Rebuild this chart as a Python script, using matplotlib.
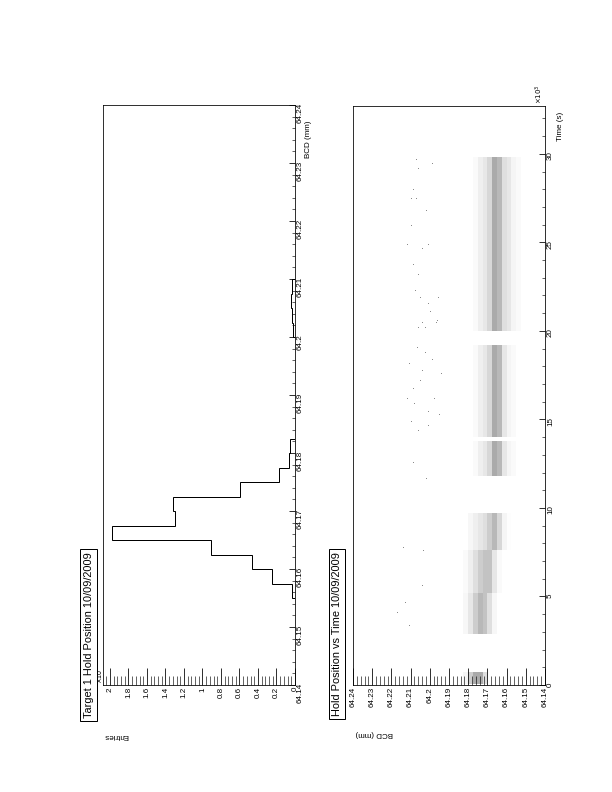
import numpy as np
import matplotlib.pyplot as plt
from matplotlib.ticker import MultipleLocator, FuncFormatter

plt.rcParams['font.family'] = ['Liberation Sans', 'DejaVu Sans']

# ---- histogram: BCD bins (mm) and entries (x10) ----
hist_edges = [64.155, 64.1575, 64.16, 64.1625, 64.165, 64.1675, 64.17, 64.1725,
              64.175, 64.1775, 64.18, 64.1825, 64.185, 64.1875, 64.19, 64.1925,
              64.195, 64.1975, 64.2, 64.2025, 64.205, 64.2075, 64.21]
hist_counts = [0.03, 0.25, 0.46, 0.91, 1.98, 1.30, 1.32, 0.59, 0.17, 0.07, 0.05,
               0, 0, 0, 0, 0, 0, 0, 0.02, 0.03, 0.04, 0.03]

# ---- hold position vs time: dense bands (time in 10^3 s) ----
band_bcd_edges = [64.150, 64.1525, 64.155, 64.1575, 64.160, 64.1625, 64.165, 64.1675,
                  64.170, 64.1725, 64.175, 64.1775, 64.180, 64.1825, 64.185]
band_t_start = [0.05, 2.9, 5.2, 7.6, 11.8, 14.0, 20.0]
band_t_end = [0.75, 5.2, 7.6, 9.7, 13.8, 19.2, 29.8]
band_density = [
    [0, 0, 0, 0, 0, 0, 0, 0, 0.5, 1.0, 1.0, 0.7, 0.2, 0],
    [0, 0, 0, 0, 0, 0, 0.15, 0.5, 0.8, 0.9, 0.7, 0.4, 0.15, 0],
    [0, 0, 0, 0, 0, 0.1, 0.4, 0.8, 0.8, 0.7, 0.5, 0.3, 0.1, 0],
    [0, 0, 0, 0.05, 0.2, 0.6, 0.9, 0.7, 0.5, 0.4, 0.3, 0.15, 0, 0],
    [0, 0, 0.1, 0.2, 0.4, 0.9, 1.0, 0.6, 0.4, 0.3, 0.1, 0, 0, 0],
    [0, 0, 0.1, 0.2, 0.4, 0.9, 1.0, 0.6, 0.4, 0.3, 0.1, 0, 0, 0],
    [0, 0.1, 0.2, 0.4, 0.5, 0.9, 1.0, 0.6, 0.4, 0.3, 0.1, 0, 0, 0],
]

# isolated points away from the bands
sparse_t = [29.7, 29.5, 29.2, 28.0, 27.5, 27.5, 26.8, 26.0, 24.9, 24.9, 24.7, 23.8, 23.2,
            22.3, 21.9, 21.1, 20.6, 20.5, 20.5, 20.2, 20.2, 21.9, 21.6,
            19.1, 18.8, 18.4, 18.2, 17.6, 17.2, 16.2, 16.2, 15.9, 15.5, 14.9, 14.7,
            14.4, 15.3, 16.8, 17.8, 12.6, 11.7, 7.8, 7.6, 5.65, 4.7, 4.1, 3.4]
sparse_bcd = [64.207, 64.199, 64.206, 64.209, 64.210, 64.207, 64.202, 64.210, 64.212,
              64.201, 64.204, 64.209, 64.206,
              64.2077, 64.205, 64.200, 64.196, 64.204, 64.197, 64.206, 64.2025, 64.1957, 64.201,
              64.2067, 64.2025, 64.199, 64.211, 64.194, 64.205, 64.212, 64.198, 64.208,
              64.201, 64.210, 64.201, 64.206, 64.195, 64.209, 64.204, 64.209, 64.202,
              64.214, 64.2035, 64.204, 64.213, 64.217, 64.211]

W, H = 612, 792


def box(x0, y0, x1, y1):
    return [x0 / W, 1 - y1 / H, (x1 - x0) / W, (y1 - y0) / H]


fmt = FuncFormatter(lambda v, p: f'{v:g}')
fig = plt.figure(figsize=(8.5, 11), dpi=72)

# ---------------- top panel: histogram ----------------
ax1 = fig.add_axes(box(103, 105, 295, 685))
ax1.stairs(hist_counts, hist_edges, orientation='horizontal', color='black', lw=1)
ax1.set_xlim(2.075, 0)
ax1.set_ylim(64.14, 64.24)
ax1.xaxis.set_major_locator(MultipleLocator(0.2))
ax1.xaxis.set_minor_locator(MultipleLocator(0.04))
ax1.yaxis.set_major_locator(MultipleLocator(0.01))
ax1.yaxis.set_minor_locator(MultipleLocator(0.002))
ax1.xaxis.set_major_formatter(fmt)
ax1.yaxis.set_major_formatter(fmt)
ax1.yaxis.tick_right()
ax1.tick_params(axis='x', which='major', direction='in', length=17, labelsize=8,
                labelrotation=90, pad=2)
ax1.tick_params(axis='x', which='minor', direction='in', length=9)
ax1.tick_params(axis='y', which='major', direction='in', length=6, labelsize=8,
                labelrotation=90, pad=2)
ax1.tick_params(axis='y', which='minor', direction='in', length=3)

fig.text(308 / W, 1 - 121 / H, 'BCD (mm)', rotation=90, ha='center', va='top', fontsize=8)
fig.text(104 / W, 1 - 735 / H, 'Entries', rotation=180, ha='left', va='center', fontsize=8)
fig.text(100 / W, 1 - 684 / H, r'$\times$10', rotation=90, ha='center', va='bottom', fontsize=7)
fig.text(88.5 / W, 1 - 552 / H, 'Target 1 Hold Position 10/09/2009', rotation=90,
         ha='center', va='top', fontsize=11,
         bbox=dict(boxstyle='square,pad=0.3', fc='white', ec='black', lw=1))

# ---------------- bottom panel: position vs time ----------------
ax2 = fig.add_axes(box(353, 106, 545, 685))
for t0, t1, dens in zip(band_t_start, band_t_end, band_density):
    ax2.pcolormesh(band_bcd_edges, [t0, t1], [dens], cmap='Greys', vmin=0, vmax=2.3)
ax2.scatter(sparse_bcd, sparse_t, s=1.0, marker='s', color='#8a8a8a', linewidths=0)
ax2.set_xlim(64.24, 64.14)
ax2.set_ylim(0, 32.7)
ax2.xaxis.set_major_locator(MultipleLocator(0.01))
ax2.xaxis.set_minor_locator(MultipleLocator(0.002))
ax2.yaxis.set_major_locator(MultipleLocator(5))
ax2.yaxis.set_minor_locator(MultipleLocator(1))
ax2.xaxis.set_major_formatter(fmt)
ax2.yaxis.set_major_formatter(fmt)
ax2.yaxis.tick_right()
ax2.tick_params(axis='x', which='major', direction='in', length=17, labelsize=8,
                labelrotation=90, pad=2)
ax2.tick_params(axis='x', which='minor', direction='in', length=9)
ax2.tick_params(axis='y', which='major', direction='in', length=6, labelsize=8,
                labelrotation=90, pad=2)
ax2.tick_params(axis='y', which='minor', direction='in', length=3)

fig.text(561 / W, 1 - 112 / H, 'Time (s)', rotation=90, ha='center', va='top', fontsize=8)
fig.text(539 / W, 1 - 104 / H, r'$\times10^{3}$', rotation=90, ha='center', va='bottom', fontsize=7)
fig.text(355 / W, 1 - 733 / H, 'BCD (mm)', rotation=180, ha='left', va='center', fontsize=8)
fig.text(337 / W, 1 - 552 / H, 'Hold Position vs Time 10/09/2009', rotation=90,
         ha='center', va='top', fontsize=11,
         bbox=dict(boxstyle='square,pad=0.3', fc='white', ec='black', lw=1))

fig.savefig('out.png', dpi=72)
